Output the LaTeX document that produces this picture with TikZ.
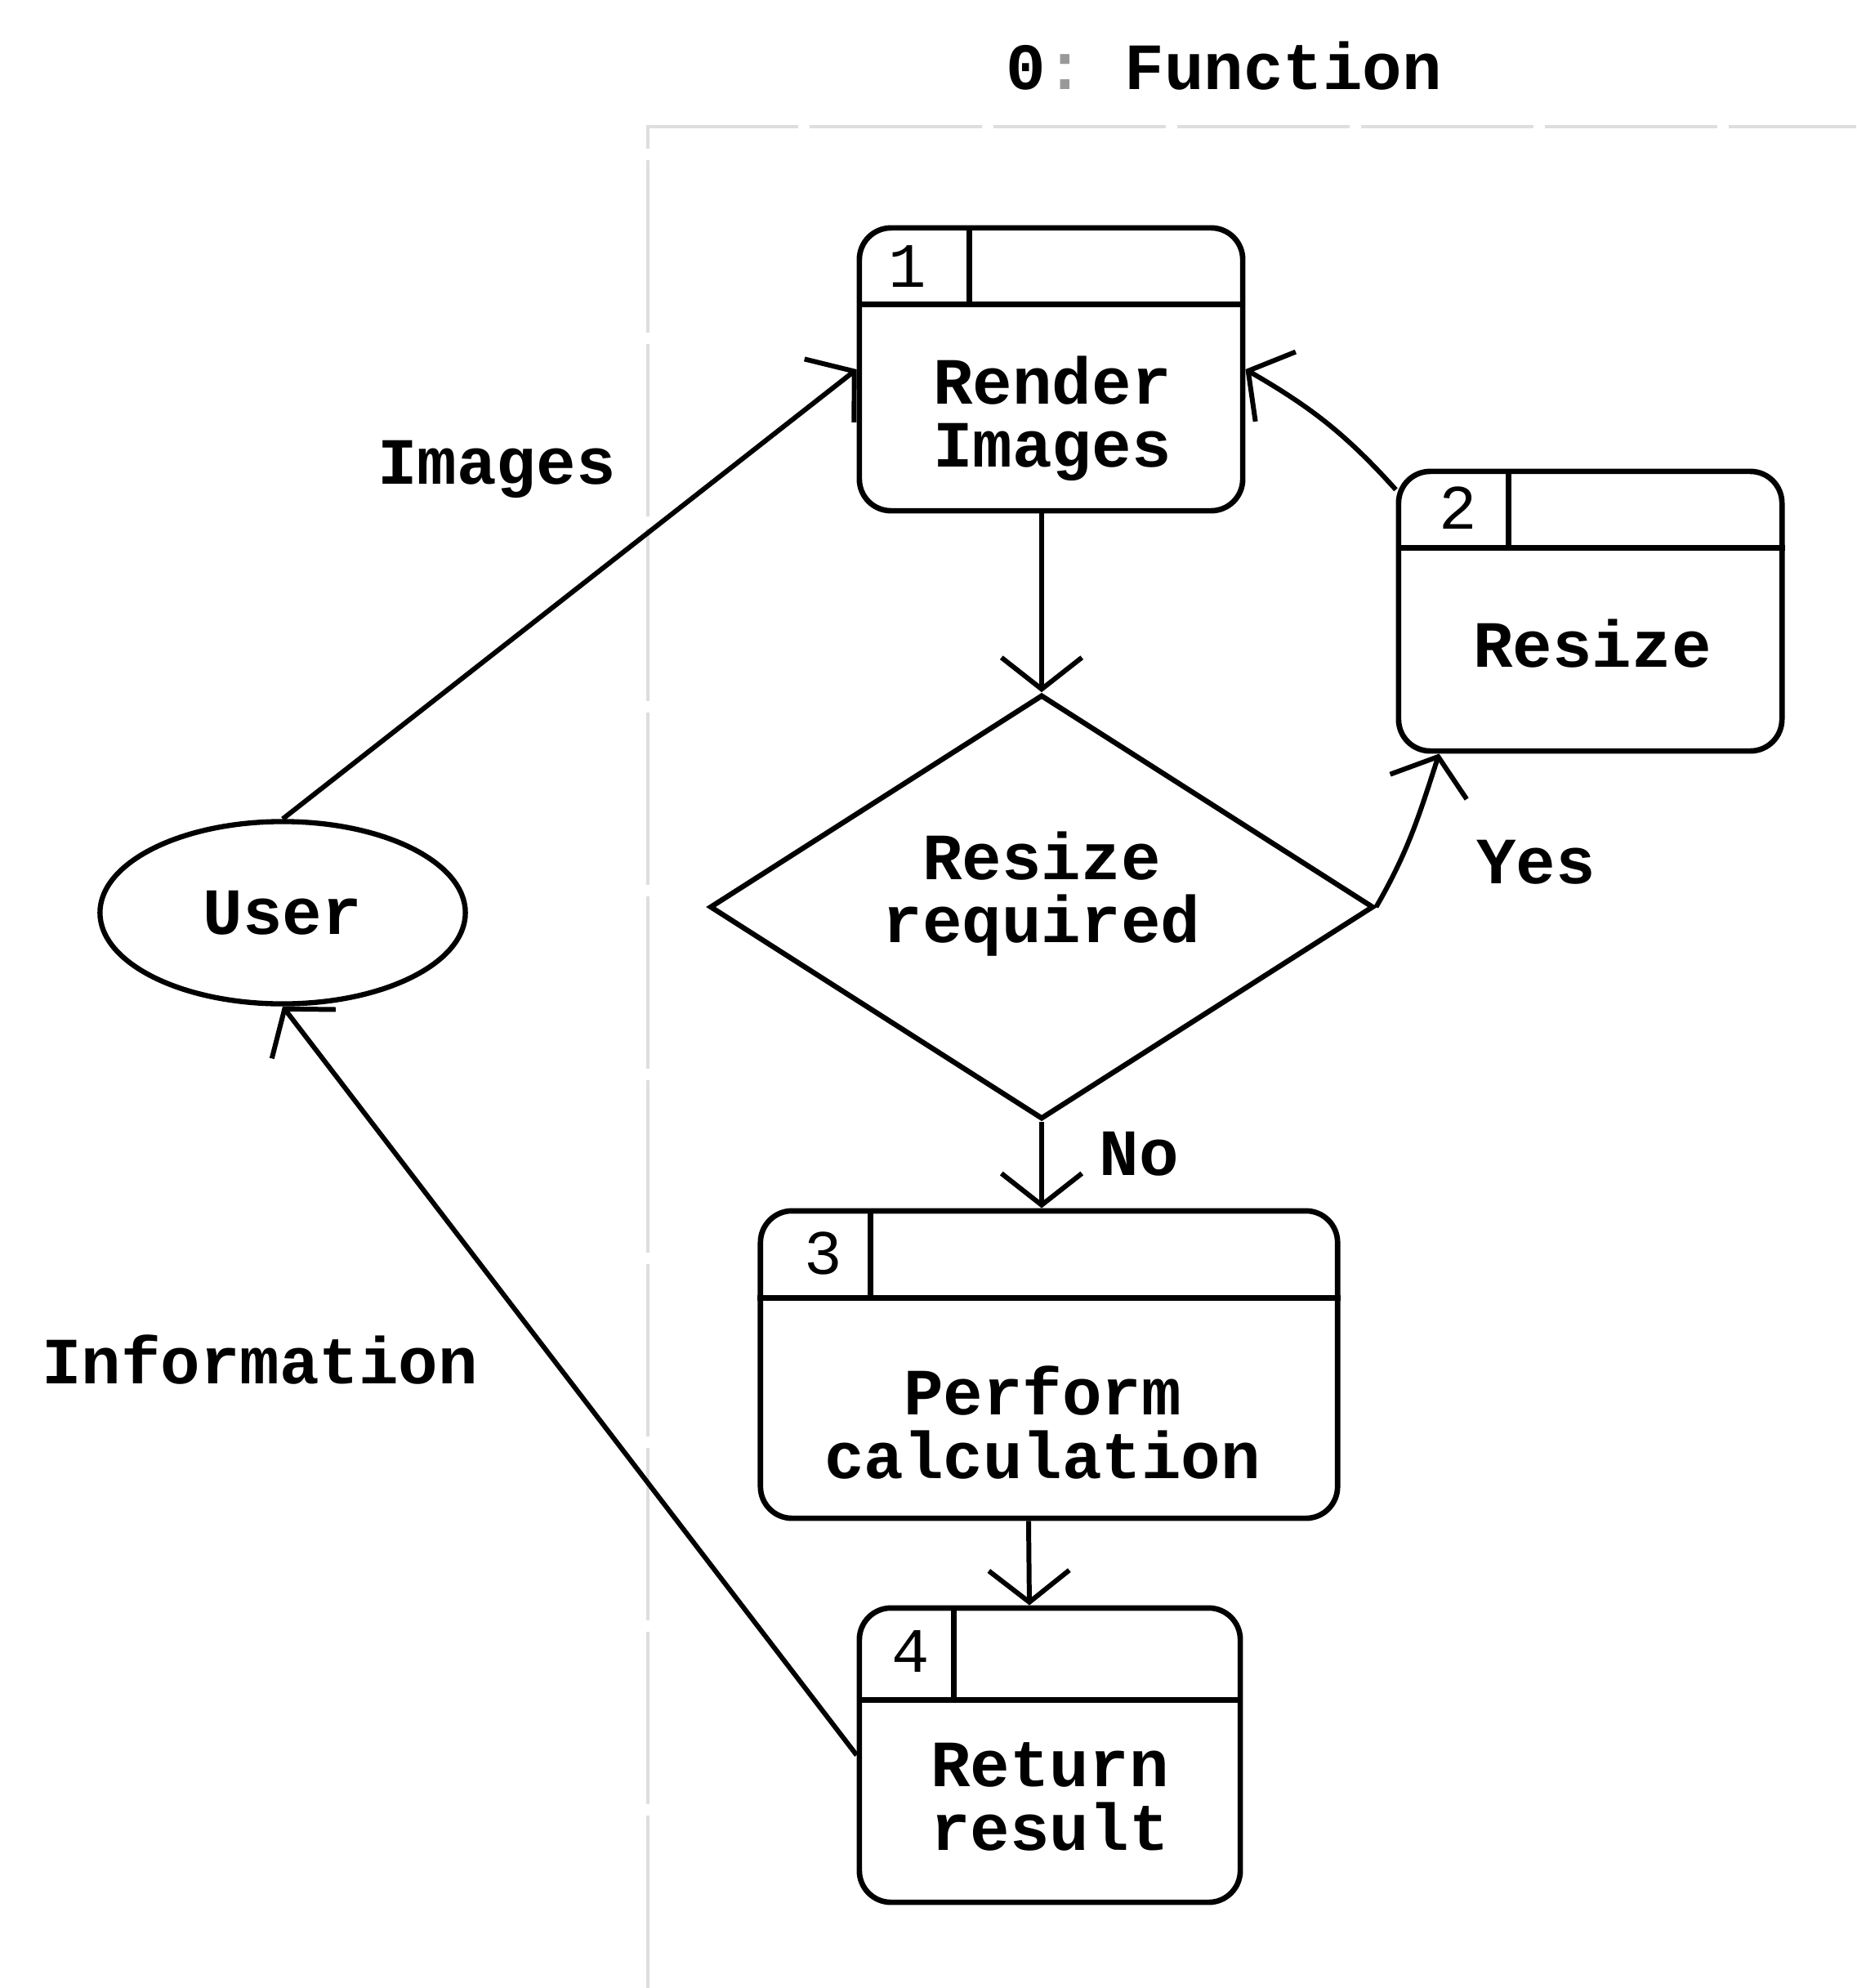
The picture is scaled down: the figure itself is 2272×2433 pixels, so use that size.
\documentclass[tikz,border=0pt]{standalone}
\usepackage{fontspec}
\setmonofont{Liberation Mono}
\usetikzlibrary{arrows.meta,shapes.geometric,calc}

\begin{document}
\begin{tikzpicture}[x=0.01cm,y=0.01cm,
  txt/.style={font=\ttfamily\bfseries\fontsize{23}{22}\selectfont, align=center, inner sep=0pt},
  numtxt/.style={font=\ttfamily\fontsize{22}{22}\selectfont, inner sep=0pt},
  procbox/.style={draw, line width=1.9pt, rounded corners=11pt, inner sep=0pt},
  boxline/.style={line width=1.9pt},
  flow/.style={line width=1.7pt, -{Straight Barb[length=11pt,width=28pt]}},
  frame/.style={draw=black!13, line width=1pt, dash pattern=on 60pt off 4pt}
]
% canvas
\path[fill=white] (0,0) rectangle (2272,-2433);
\useasboundingbox (0,0) rectangle (2272,-2433);

% title and frame of the function
\node[txt] (title) at (1498,-81) {0{\color{black!40}:} Function};
\coordinate (fcorner) at (793,-155);
\coordinate (fright) at (2272,-155);
\coordinate (fbottom) at (793,-2433);
\draw[frame] (fbottom) -- (fcorner) -- (fright);

% external entity
\node[draw, ellipse, line width=1.8pt, minimum width=4.47cm, minimum height=2.23cm,
      inner sep=0pt, txt] (user) at (346,-1117) {User};

% process boxes
\node[procbox, minimum width=4.69cm, minimum height=3.46cm] (b1) at (1286.5,-452) {};
\node[procbox, minimum width=4.69cm, minimum height=3.42cm] (b2) at (1946.5,-748) {};
\node[procbox, minimum width=7.06cm, minimum height=3.76cm] (b3) at (1284,-1670) {};
\node[procbox, minimum width=4.66cm, minimum height=3.60cm] (b4) at (1285,-2148) {};

% header rows: number cell and empty cell
\draw[boxline] ($(b1.north west)+(0,-97)$) -- ($(b1.north east)+(0,-97)$);
\draw[boxline] ($(b1.north west)+(138,0)$) -- ($(b1.north west)+(138,-97)$);
\draw[boxline] ($(b2.north west)+(0,-97)$) -- ($(b2.north east)+(0,-97)$);
\draw[boxline] ($(b2.north west)+(138,0)$) -- ($(b2.north west)+(138,-97)$);
\draw[boxline] ($(b3.north west)+(0,-110)$) -- ($(b3.north east)+(0,-110)$);
\draw[boxline] ($(b3.north west)+(138,0)$) -- ($(b3.north west)+(138,-110)$);
\draw[boxline] ($(b4.north west)+(0,-116)$) -- ($(b4.north east)+(0,-116)$);
\draw[boxline] ($(b4.north west)+(119,0)$) -- ($(b4.north west)+(119,-116)$);

\node[numtxt] (n1) at ($(b1.north west)+(62,-50)$) {1};
\node[numtxt] (n2) at ($(b2.north west)+(76,-48)$) {2};
\node[numtxt] (n3) at ($(b3.north west)+(80,-55)$) {3};
\node[numtxt] (n4) at ($(b4.north west)+(66,-56)$) {4};

\node[txt] (t1) at (1288,-512) {Render\\Images};
\node[txt] (t2) at (1949,-788) {Resize};
\node[txt] (t3) at (1276,-1741) {Perform\\calculation};
\node[txt] (t4) at (1285,-2199) {Return\\result};

% decision
\node[draw, diamond, line width=1.8pt, minimum width=8.12cm, minimum height=5.19cm,
      inner sep=0pt] (dm) at (1275,-1110) {};
\node[txt] (tdm) at (1275,-1094) {Resize\\required};

% flows
\draw[flow] (user.north) -- (b1.west);
\draw[flow] (b1.south -| dm.north) -- (dm.north);
\draw[flow] (dm.east) to[out=60,in=-108] ($(b2.south west)+(53,0)$);
\draw[flow] (b2.148) to[out=132,in=-30] (b1.east);
\draw[flow] (dm.south) -- (dm.south |- b3.north);
\draw[flow] ([xshift=-0.25cm]b3.south) -- ([xshift=-0.25cm]b4.north);
\draw[flow] (b4.west) -- (user.south);

% flow labels
\node[txt] (limages) at (608,-574) {Images};
\node[txt] (linfo) at (318,-1664) {Information};
\node[txt] (lyes) at (1880,-1055) {Yes};
\node[txt] (lno) at (1394,-1412) {No};
\end{tikzpicture}
\end{document}
